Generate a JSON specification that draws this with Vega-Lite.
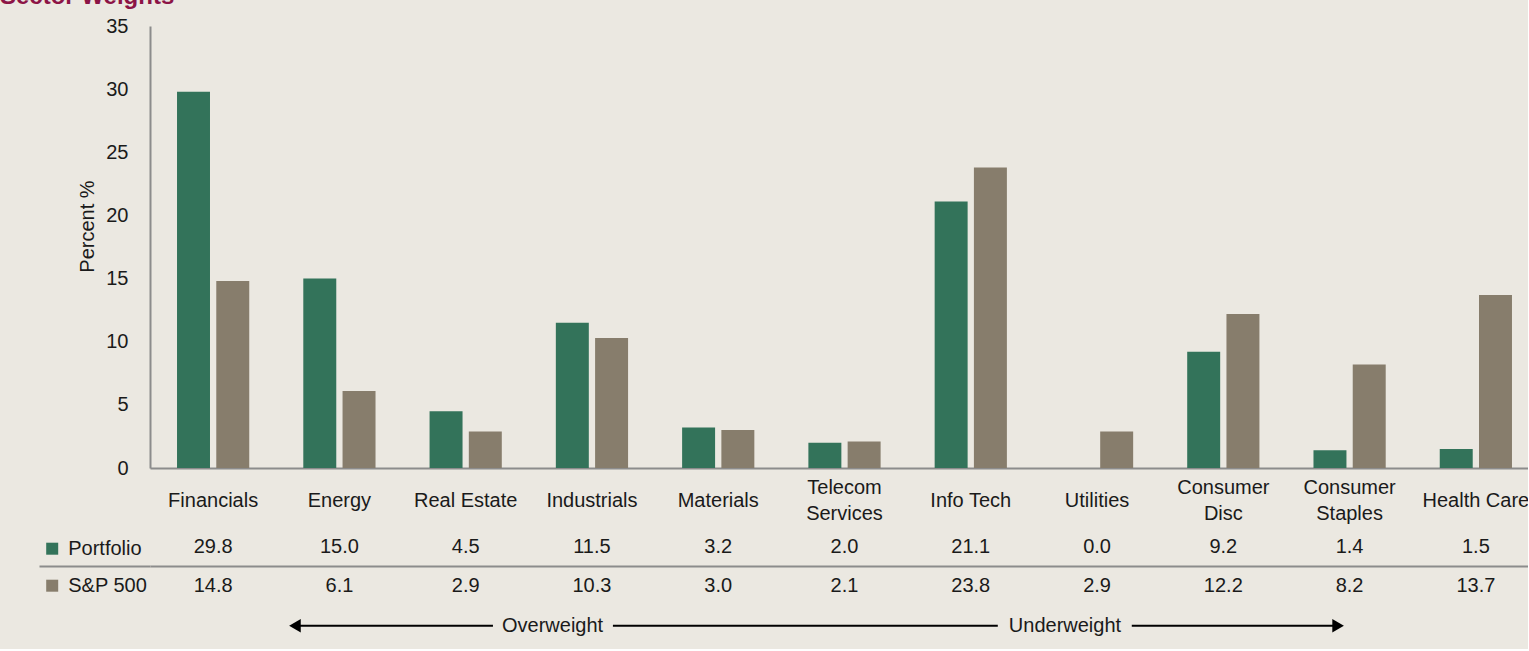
{
  "$schema": "https://vega.github.io/schema/vega-lite/v6.json",
  "background": "#EBE8E1",
  "padding": {"left": 0, "top": -15, "right": -11, "bottom": 3},
  "title": {"text": "Sector Weights", "anchor": "start", "frame": "group", "dx": -150, "offset": -12, "baseline": "alphabetic", "font": "Liberation Sans", "fontSize": 24, "fontWeight": "bold", "color": "#8C1446"},
  "spacing": 0,
  "datasets": {
    "weights": [
      {"sector": "Financials", "series": "Portfolio", "value": 29.8},
      {"sector": "Financials", "series": "S&P 500", "value": 14.8},
      {"sector": "Energy", "series": "Portfolio", "value": 15.0},
      {"sector": "Energy", "series": "S&P 500", "value": 6.1},
      {"sector": "Real Estate", "series": "Portfolio", "value": 4.5},
      {"sector": "Real Estate", "series": "S&P 500", "value": 2.9},
      {"sector": "Industrials", "series": "Portfolio", "value": 11.5},
      {"sector": "Industrials", "series": "S&P 500", "value": 10.3},
      {"sector": "Materials", "series": "Portfolio", "value": 3.2},
      {"sector": "Materials", "series": "S&P 500", "value": 3.0},
      {"sector": "Telecom Services", "series": "Portfolio", "value": 2.0},
      {"sector": "Telecom Services", "series": "S&P 500", "value": 2.1},
      {"sector": "Info Tech", "series": "Portfolio", "value": 21.1},
      {"sector": "Info Tech", "series": "S&P 500", "value": 23.8},
      {"sector": "Utilities", "series": "Portfolio", "value": 0.0},
      {"sector": "Utilities", "series": "S&P 500", "value": 2.9},
      {"sector": "Consumer Disc", "series": "Portfolio", "value": 9.2},
      {"sector": "Consumer Disc", "series": "S&P 500", "value": 12.2},
      {"sector": "Consumer Staples", "series": "Portfolio", "value": 1.4},
      {"sector": "Consumer Staples", "series": "S&P 500", "value": 8.2},
      {"sector": "Health Care", "series": "Portfolio", "value": 1.5},
      {"sector": "Health Care", "series": "S&P 500", "value": 13.7}
    ],
    "arrowLines": [
      {"from": 1.148, "to": 2.716},
      {"from": 3.666, "to": 6.714},
      {"from": 7.775, "to": 9.409}
    ],
    "arrowHeads": [
      {"pos": 1.148, "dir": "left"},
      {"pos": 9.409, "dir": "right"}
    ],
    "arrowLabels": [
      {"pos": 3.188, "label": "Overweight"},
      {"pos": 7.246, "label": "Underweight"}
    ]
  },
  "vconcat": [
    {
      "width": 1389,
      "height": 442,
      "data": {"name": "weights"},
      "mark": {"type": "bar"},
      "encoding": {
        "x": {
          "field": "sector", "type": "nominal", "sort": null,
          "scale": {"paddingInner": 0.428, "paddingOuter": 0.214},
          "axis": {
            "title": null, "orient": "bottom", "domainColor": "#8c8c8c", "domainWidth": 2,
            "ticks": false, "tickSize": 0, "labelAngle": 0, "labelPadding": 19,
            "labelFontSize": 20, "labelColor": "#1a1a1a",
            "labelBaseline": {"condition": {"test": "indexof(['Telecom Services','Consumer Disc','Consumer Staples'], datum.value) >= 0", "value": "middle"}, "value": "line-top"},
            "labelLineHeight": 26, "labelOverlap": false, "labelBound": false, "labelFlush": false,
            "labelLimit": 0, "minExtent": 59, "maxExtent": 59,
            "labelExpr": "indexof(['Telecom Services','Consumer Disc','Consumer Staples'], datum.value) >= 0 ? split(datum.value, ' ') : datum.label"
          }
        },
        "xOffset": {"field": "series", "type": "nominal", "sort": ["Portfolio", "S&P 500"], "scale": {"paddingInner": 0.16, "paddingOuter": 0}},
        "y": {
          "field": "value", "type": "quantitative",
          "scale": {"domain": [0, 35], "nice": false},
          "axis": {
            "title": "Percent %", "values": [0, 5, 10, 15, 20, 25, 30, 35], "grid": false,
            "ticks": false, "tickSize": 0, "domainColor": "#8c8c8c", "domainWidth": 2,
            "labelPadding": 22, "labelFontSize": 20, "labelColor": "#1a1a1a",
            "titleFontSize": 20, "titleFontWeight": "normal", "titleColor": "#1a1a1a",
            "titlePadding": 8, "titleY": 200, "labelFlush": false, "labelOverlap": false
          }
        },
        "color": {
          "field": "series", "type": "nominal",
          "scale": {"domain": ["Portfolio", "S&P 500"], "range": ["#33735A", "#877D6C"]},
          "legend": {
            "orient": "none", "legendX": -112.8, "legendY": 507.7, "direction": "vertical",
            "title": null, "symbolType": "square", "symbolSize": 144, "symbolStrokeWidth": 0,
            "labelFontSize": 20, "labelOffset": 6, "padding": 5, "rowPadding": 17,
            "labelColor": "#1a1a1a"
          }
        }
      }
    },
    {
      "width": 1389,
      "height": 118.5,
      "layer": [
        {
          "data": {"name": "weights"},
          "mark": {"type": "text", "fontSize": 20, "color": "#1a1a1a", "baseline": "middle"},
          "encoding": {
            "x": {"field": "sector", "type": "nominal", "sort": null, "scale": {"paddingInner": 0.428, "paddingOuter": 0.214}, "axis": null},
            "y": {
              "field": "series", "type": "nominal",
              "scale": {"domain": ["Portfolio", "S&P 500", "arrow"], "paddingInner": 0, "paddingOuter": 0},
              "axis": {
                "title": null, "labels": false, "domain": false, "ticks": true, "tickSize": 149,
                "tickWidth": 2, "tickColor": "#8c8c8c", "tickDash": [111, 200],
                "tickOpacity": {"condition": {"test": "datum.value === 'S&P 500'", "value": 1}, "value": 0},
                "grid": true, "gridColor": "#8c8c8c", "gridWidth": 2,
                "gridOpacity": {"condition": {"test": "datum.value === 'S&P 500'", "value": 1}, "value": 0},
                "bandPosition": 0
              }
            },
            "text": {"field": "value", "type": "quantitative", "format": ".1f"}
          }
        },
        {
          "data": {"name": "arrowLines"},
          "mark": {"type": "rule", "strokeWidth": 2, "color": "#000000"},
          "encoding": {
            "x": {"field": "from", "type": "quantitative", "scale": {"domain": [0, 11], "nice": false, "zero": false}, "axis": null},
            "x2": {"field": "to"},
            "y": {"datum": "arrow", "type": "nominal"}
          }
        },
        {
          "data": {"name": "arrowHeads"},
          "mark": {"type": "point", "filled": true, "color": "#000000", "size": 180, "opacity": 1, "strokeWidth": 0},
          "encoding": {
            "x": {"field": "pos", "type": "quantitative", "scale": {"domain": [0, 11], "nice": false, "zero": false}, "axis": null},
            "y": {"datum": "arrow", "type": "nominal"},
            "shape": {"field": "dir", "type": "nominal", "scale": {"domain": ["left", "right"], "range": ["triangle-left", "triangle-right"]}, "legend": null}
          }
        },
        {
          "data": {"name": "arrowLabels"},
          "mark": {"type": "text", "fontSize": 20, "color": "#1a1a1a", "baseline": "middle"},
          "encoding": {
            "x": {"field": "pos", "type": "quantitative", "scale": {"domain": [0, 11], "nice": false, "zero": false}, "axis": null},
            "y": {"datum": "arrow", "type": "nominal"},
            "text": {"field": "label", "type": "nominal"}
          }
        }
      ],
      "resolve": {"scale": {"x": "independent"}}
    }
  ],
  "config": {
    "view": {"stroke": null},
    "font": "Liberation Sans"
  }
}
